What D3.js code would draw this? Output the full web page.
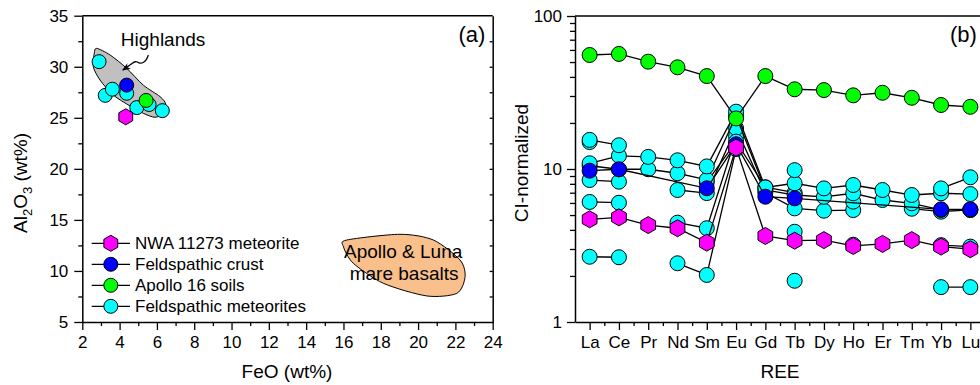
<!DOCTYPE html>
<html>
<head>
<meta charset="utf-8">
<script src="https://cdn.jsdelivr.net/npm/d3@7"></script>
<style>
body { margin: 0; background: #fff; }
text { font-family: "Liberation Sans", Arial, sans-serif; }
</style>
</head>
<body>
<svg id="chart" width="980" height="385"></svg>
<script>

// ---- panel (a): FeO vs Al2O3 ----
var meteoriteFeO = [2.90, 3.23, 3.61, 4.38, 4.92, 5.58, 6.29];
var meteoriteAl = [30.5, 27.2, 27.8, 27.4, 26.0, 26.3, 25.7];
var crustFeO = [4.38];
var crustAl = [28.2];
var soilsFeO = [5.42];
var soilsAl = [26.7];
var nwaFeO = [4.33];
var nwaAl = [25.1];

// outlines of the two fields (wt%)
var highlandsFeO = [2.77, 3.49, 4.38, 5.27, 6.17, 6.47, 6.34, 5.90, 5.27, 4.56, 3.66, 2.95, 2.59, 2.64];
var highlandsAl = [31.8, 31.15, 29.85, 28.2, 27.07, 26.35, 25.44, 25.05, 25.44, 26.16, 27.23, 28.7, 30.0, 31.3];
var mareFeO = [16.18, 19.03, 20.82, 22.25, 22.52, 22.08, 20.47, 18.14, 16.53, 16.0];
var mareAl = [13.03, 13.59, 13.03, 11.07, 9.44, 7.81, 7.55, 8.79, 10.75, 12.37];

var xTicksA = d3.range(2, 25, 2);
var yTicksA = d3.range(5, 36, 5);

// ---- panel (b): CI-normalized REE ----
var elements = ["La", "Ce", "Pr", "Nd", "Sm", "Eu", "Gd", "Tb", "Dy", "Ho", "Er", "Tm", "Yb", "Lu"];
var soilsREE = [55.6, 56.5, 50.3, 46.2, 40.5, 21.4, 40.5, 33.2, 32.8, 30.3, 31.5, 29.2, 26.2, 25.5];
var nwaREE = [4.69, 4.83, 4.30, 4.10, 3.30, 13.8, 3.65, 3.40, 3.43, 3.14, 3.24, 3.43, 3.11, 2.99];
var crustREE = [9.75, 9.96, null, null, 7.48, 14.5, 6.59, 6.43, null, null, null, null, 5.45, 5.45];
var meteoriteREE1 = [15.5, 14.3, null, null, null, null, null, 9.83, null, null, null, null, 7.47, 8.83];
var meteoriteREE2 = [10.9, 12.2, 12.0, 11.4, 10.4, 23.7, 7.57, 8.07, 7.47, 7.86, 7.29, 6.76, 6.94, 6.86];
var meteoriteREE3 = [10.5, 9.96, 9.96, 9.38, 8.5, 22.2, 7.3, 6.76, 6.58, 6.94, 6.27, 5.97, 5.4, 5.4];
var meteoriteREE4 = [8.47, 8.26, null, 7.29, 6.96, 18.5, 7.0, 5.53, 5.34, 5.39, null, 5.5, 5.26, 5.4];
var meteoriteREE5 = [6.09, 6.02, null, 4.46, 4.10, 16.3, null, 3.89, null, 3.2, null, null, 3.18, 3.11];
var meteoriteREE6 = [2.67, 2.65, null, 2.42, 2.03, 13.5, null, 1.86, null, null, null, null, 1.69, 1.69];
var meteoriteREE7 = [15.0, null, null, null, 8.2, 15.1, 7.6, 7.0, null, 6.12, null, null, null, null];
var yTicksB = [1, 10, 100];

var legendNames = ["NWA 11273 meteorite", "Feldspathic crust", "Apollo 16 soils", "Feldspathic meteorites"];

var colNwa = "#ff00ff", colCrust = "#0000ff", colSoils = "#00ff00", colMet = "#00ffff";

var svg = d3.select("#chart");

function hexPath(r)
{
	var pts = d3.range(6).map(function(k) {
		var a = (-90 + 60 * k) * Math.PI / 180;
		return [r * Math.cos(a), r * Math.sin(a)];
	});
	return "M" + pts.join("L") + "Z";
}

function drawMarker(g, x, y, color, shape, r)
{
	if (shape == "hex") {
		g.append("path")
			.attr("d", hexPath(r + 1))
			.attr("transform", "translate(" + x + "," + y + ")")
			.attr("fill", color)
			.attr("stroke", "#000")
			.attr("stroke-width", 1);
	}
	else {
		g.append("circle")
			.attr("cx", x)
			.attr("cy", y)
			.attr("r", r)
			.attr("fill", color)
			.attr("stroke", "#000")
			.attr("stroke-width", 1);
	}
}

function styleAxis(g)
{
	g.attr("font-family", null).attr("font-size", 17);
	g.selectAll("text").attr("fill", "#000");
	g.selectAll("line").attr("stroke", "#000").attr("stroke-width", 1.3);
	g.select(".domain").attr("stroke", "#000").attr("stroke-width", 1.5);
}

/* ================= panel (a) ================= */
var xA = d3.scaleLinear().domain([2, 24]).range([82.3, 492.7]);
var yA = d3.scaleLinear().domain([5, 35]).range([322, 15.7]);

var pa = svg.append("g");

// fields
var closedLine = d3.line().curve(d3.curveCardinalClosed.tension(0.2));
pa.append("path")
	.attr("d", closedLine(highlandsFeO.map(function(d, i) { return [xA(d), yA(highlandsAl[i])]; })))
	.attr("fill", "#c0c0c0")
	.attr("stroke", "#000")
	.attr("stroke-width", 1);
pa.append("path")
	.attr("d", closedLine(mareFeO.map(function(d, i) { return [xA(d), yA(mareAl[i])]; })))
	.attr("fill", "#f9c08c")
	.attr("stroke", "#000")
	.attr("stroke-width", 1);

// axes
pa.append("g").attr("transform", "translate(" + xA(2) + ",0)")
	.call(d3.axisLeft(yA).tickValues(yTicksA).tickSize(8).tickSizeOuter(0).tickPadding(6))
	.call(styleAxis);
pa.append("g").attr("transform", "translate(" + xA(2) + ",0)")
	.call(d3.axisLeft(yA).tickValues(d3.range(7.5, 35, 5)).tickSize(4).tickFormat(""))
	.call(styleAxis)
	.select(".domain").remove();
pa.append("g").attr("transform", "translate(0," + yA(5) + ")")
	.call(d3.axisBottom(xA).tickValues(xTicksA).tickSize(8).tickSizeOuter(0).tickPadding(6))
	.call(styleAxis);
pa.append("g").attr("transform", "translate(0," + yA(5) + ")")
	.call(d3.axisBottom(xA).tickValues(d3.range(3, 24, 2)).tickSize(4).tickFormat(""))
	.call(styleAxis)
	.select(".domain").remove();
pa.append("g").attr("transform", "translate(" + xA(24) + ",0)")
	.call(d3.axisLeft(yA).tickValues(d3.range(7.5, 35, 2.5)).tickSize(3).tickSizeOuter(0).tickFormat(""))
	.call(styleAxis);
pa.append("line")
	.attr("x1", xA(2)).attr("x2", xA(24))
	.attr("y1", yA(35)).attr("y2", yA(35))
	.attr("stroke", "#000").attr("stroke-width", 1.5);

// points
meteoriteFeO.forEach(function(d, i) { drawMarker(pa, xA(d), yA(meteoriteAl[i]), colMet, "circle", 7); });
crustFeO.forEach(function(d, i) { drawMarker(pa, xA(d), yA(crustAl[i]), colCrust, "circle", 7); });
soilsFeO.forEach(function(d, i) { drawMarker(pa, xA(d), yA(soilsAl[i]), colSoils, "circle", 7); });
nwaFeO.forEach(function(d, i) { drawMarker(pa, xA(d), yA(nwaAl[i]), colNwa, "hex", 7); });

// annotations
pa.append("text").attr("x", xA(6.33)).attr("y", yA(32.0))
	.attr("text-anchor", "middle").attr("font-size", 19).text("Highlands");

var defs = svg.append("defs");
defs.append("marker")
	.attr("id", "arrowhead")
	.attr("viewBox", "0 0 10 10")
	.attr("refX", 9).attr("refY", 5)
	.attr("markerWidth", 7).attr("markerHeight", 7)
	.attr("orient", "auto")
	.append("path").attr("d", "M0,1L10,5L0,9L3,5Z").attr("fill", "#000");

var tail = [xA(5.54), yA(31.15)], tip = [xA(4.17), yA(29.68)];
pa.append("path")
	.attr("d", "M" + tail[0] + "," + tail[1] +
		" C" + (tail[0] - 2) + "," + (tail[1] + 7) + " " + (tail[0] - 7) + "," + (tail[1] + 10) + " " + (tail[0] - 11) + "," + (tail[1] + 7) +
		" C" + (tail[0] - 14) + "," + (tail[1] + 5) + " " + (tail[0] - 16) + "," + (tail[1] + 9) + " " + tip[0] + "," + tip[1])
	.attr("fill", "none")
	.attr("stroke", "#000")
	.attr("stroke-width", 1.2)
	.attr("marker-end", "url(#arrowhead)");

pa.append("text").attr("x", xA(19.2)).attr("y", yA(11.3))
	.attr("text-anchor", "middle").attr("font-size", 19).text("Apollo & Luna");
pa.append("text").attr("x", xA(19.25)).attr("y", yA(9.15))
	.attr("text-anchor", "middle").attr("font-size", 19).text("mare basalts");

pa.append("text").attr("x", 472).attr("y", 42)
	.attr("text-anchor", "middle").attr("font-size", 22).text("(a)");

// axis titles
pa.append("text").attr("x", 287).attr("y", 378)
	.attr("text-anchor", "middle").attr("font-size", 19).text("FeO (wt%)");
var yt = pa.append("text")
	.attr("transform", "translate(27,183) rotate(-90)")
	.attr("text-anchor", "middle").attr("font-size", 19);
yt.append("tspan").text("Al");
yt.append("tspan").attr("font-size", 13).attr("dy", 5).text("2");
yt.append("tspan").attr("dy", -5).text("O");
yt.append("tspan").attr("font-size", 13).attr("dy", 5).text("3");
yt.append("tspan").attr("dy", -5).text(" (wt%)");

// legend
var legendColors = [colNwa, colCrust, colSoils, colMet];
var legendShapes = ["hex", "circle", "circle", "circle"];
legendNames.forEach(function(name, i) {
	var ly = 243.3 + i * 21;
	pa.append("line").attr("x1", 91.7).attr("x2", 130).attr("y1", ly).attr("y2", ly)
		.attr("stroke", "#000").attr("stroke-width", 1.3);
	drawMarker(pa, 110.8, ly, legendColors[i], legendShapes[i], 7);
	pa.append("text").attr("x", 135).attr("y", ly + 6).attr("font-size", 17).text(name);
});

/* ================= panel (b) ================= */
var xB = d3.scaleLinear().domain([-0.5, 13.5]).range([575, 985]);
var yB = d3.scaleLog().domain([1, 100]).range([322, 16]);

var pb = svg.append("g");

pb.append("g").attr("transform", "translate(" + xB(-0.5) + ",0)")
	.call(d3.axisLeft(yB).tickValues(yTicksB).tickFormat(d3.format("d")).tickSize(8).tickSizeOuter(0).tickPadding(5))
	.call(styleAxis);
var minorB = [2, 3, 4, 5, 6, 7, 8, 9, 20, 30, 40, 50, 60, 70, 80, 90];
pb.append("g").attr("transform", "translate(" + xB(-0.5) + ",0)")
	.call(d3.axisLeft(yB).tickValues(minorB).tickSize(5).tickFormat(""))
	.call(styleAxis)
	.select(".domain").remove();
pb.append("g").attr("transform", "translate(0," + yB(1) + ")")
	.call(d3.axisBottom(xB).tickValues(d3.range(elements.length))
		.tickFormat(function(i) { return elements[i]; })
		.tickSize(8).tickSizeOuter(0).tickPadding(6))
	.call(styleAxis);
pb.append("g").attr("transform", "translate(0," + yB(1) + ")")
	.call(d3.axisBottom(xB).tickValues(d3.range(0.5, 13, 1)).tickSize(4).tickFormat(""))
	.call(styleAxis)
	.select(".domain").remove();
pb.append("line")
	.attr("x1", xB(-0.5)).attr("x2", 980)
	.attr("y1", yB(100)).attr("y2", yB(100))
	.attr("stroke", "#000").attr("stroke-width", 1.5);

// a series: lines break at missing values unless bridge is set
function drawSeries(values, color, shape, r, bridge)
{
	var g = pb.append("g");
	var pts = values.map(function(v, i) { return { i: i, v: v }; });
	var line = d3.line()
		.defined(function(d) { return d.v != null; })
		.x(function(d) { return xB(d.i); })
		.y(function(d) { return yB(d.v); });
	var linePts = bridge ? pts.filter(function(d) { return d.v != null; }) : pts;
	g.append("path")
		.attr("d", line(linePts))
		.attr("fill", "none")
		.attr("stroke", "#000")
		.attr("stroke-width", 1.3);
	pts.forEach(function(d) {
		if (d.v != null) drawMarker(g, xB(d.i), yB(d.v), color, shape, r);
	});
}

[meteoriteREE6, meteoriteREE5, meteoriteREE4, meteoriteREE7, meteoriteREE3, meteoriteREE2, meteoriteREE1]
	.forEach(function(s) { drawSeries(s, colMet, "circle", 7.5, false); });
drawSeries(crustREE, colCrust, "circle", 7.5, true);
drawSeries(nwaREE, colNwa, "hex", 7.5, false);
drawSeries(soilsREE, colSoils, "circle", 7.5, false);

pb.append("text").attr("x", 950).attr("y", 42).attr("font-size", 22).text("(b)");

pb.append("text").attr("x", 780).attr("y", 378)
	.attr("text-anchor", "middle").attr("font-size", 19).text("REE");
pb.append("text")
	.attr("transform", "translate(528,163) rotate(-90)")
	.attr("text-anchor", "middle").attr("font-size", 19).text("CI-normalized");

</script>
</body>
</html>
